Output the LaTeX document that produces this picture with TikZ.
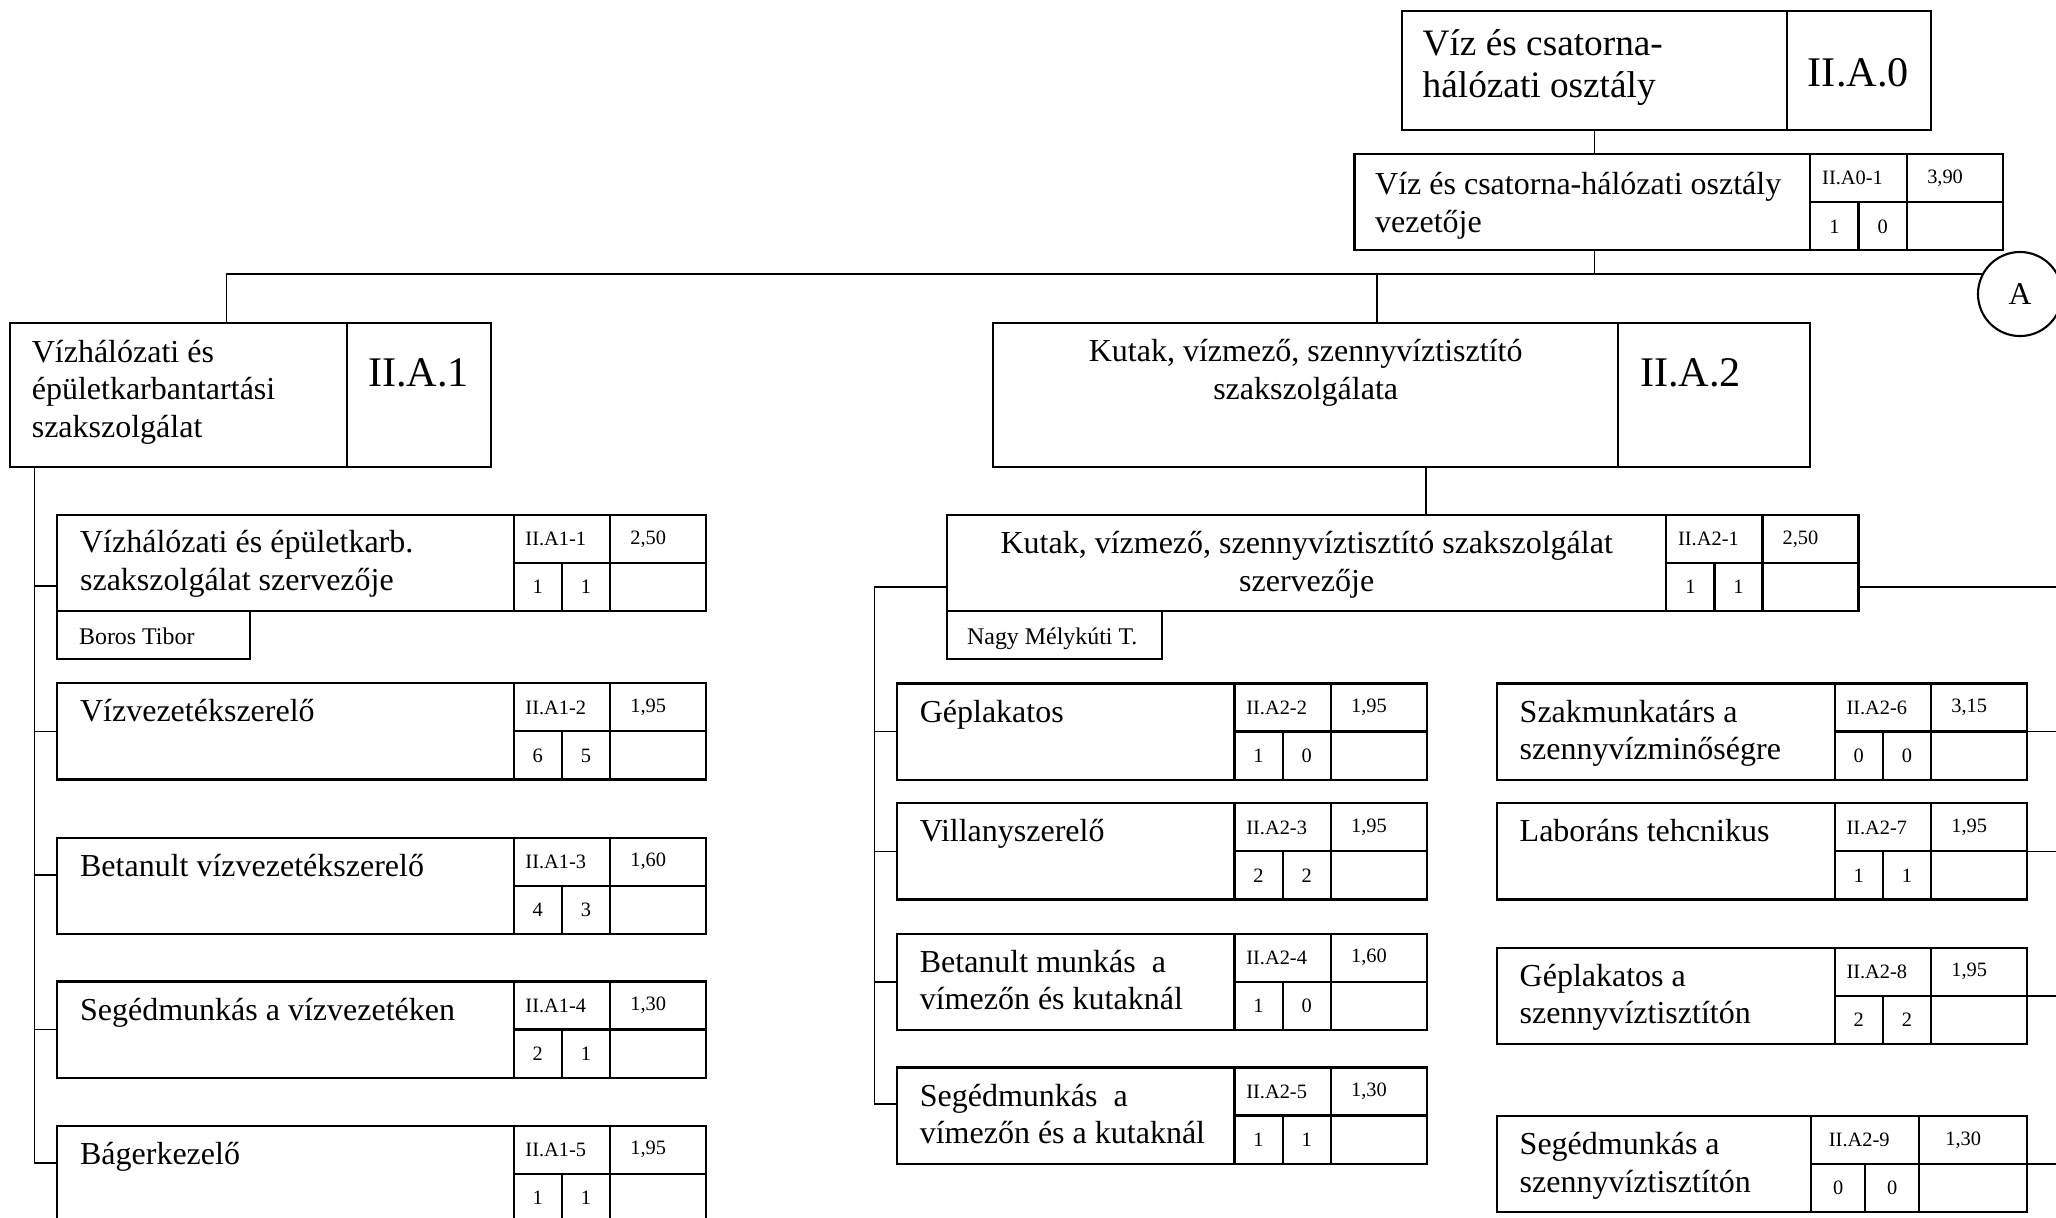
\documentclass[tikz,border=0pt]{standalone}
\usepackage{fontspec}
\setmainfont{Liberation Serif}
\usetikzlibrary{positioning}

\tikzset{
  jobbox/.style={draw, line width=0.6pt, inner sep=0pt, outer sep=0pt, anchor=north west, minimum height=0.96cm},
  cell/.style={draw, line width=0.6pt, inner sep=0pt, outer sep=0pt, anchor=north west, minimum height=0.48cm, font=\fontsize{5.8}{7}\selectfont},
  jobtext/.style={inner sep=0pt, anchor=base west, align=left, font=\fontsize{9.1}{10.7}\selectfont},
  nametag/.style={draw, line width=0.6pt, inner sep=0pt, outer sep=0pt, anchor=north west, minimum height=0.477cm},
  nametext/.style={inner sep=0pt, anchor=base west, font=\fontsize{6.8}{8}\selectfont},
  unitbox/.style={draw, line width=0.6pt, inner sep=0pt, outer sep=0pt, anchor=north west, minimum height=1.44cm},
  unitlabel/.style={inner sep=0pt, anchor=base west, font=\fontsize{12}{14}\selectfont},
  link/.style={line width=0.5pt},
}

% job box: name, left, top, table x, right, code, value, digit 1, digit 2
\newcommand{\posbox}[9]{%
  \pgfmathsetmacro{\pbtext}{(#4-#2)/100}%
  \pgfmathsetmacro{\pbcell}{(#5-#4)/200}%
  \pgfmathsetmacro{\pbhalf}{(#5-#4)/400}%
  \node[jobbox, minimum width=\pbtext cm] (#1) at (#2,#3) {};
  \node[cell, minimum width=\pbcell cm] (#1-code) at (#1.north east) {\hspace*{-.12cm}#6};
  \node[cell, minimum width=\pbcell cm] (#1-val) at (#1-code.north east) {\hspace*{-.2cm}#7};
  \node[cell, minimum width=\pbhalf cm] (#1-n) at (#1-code.south west) {#8};
  \node[cell, minimum width=\pbhalf cm] (#1-m) at (#1-n.north east) {#9};
  \node[cell, minimum width=\pbcell cm] (#1-e) at (#1-val.south west) {};
}

\begin{document}
\begin{tikzpicture}[x=0.01cm, y=-0.01cm]
    \path[use as bounding box] (0,0) rectangle (2056,1217);
    \clip (0,0) rectangle (2056,1217);

    % Department
    \node[unitbox, minimum width=3.85cm, minimum height=1.193cm] (a0) at (1402,10.7) {};
    \node[unitbox, minimum width=1.44cm, minimum height=1.193cm] (a0-lab) at (a0.north east) {};
    \node[jobtext, font=\fontsize{10.6}{12.2}\selectfont] (a0-t) at ([xshift=.2cm,yshift=-.872cm]a0.north west) {Víz és csatorna-\\hálózati osztály};
    \node[unitlabel] (a0-l) at ([xshift=.2cm,yshift=-.753cm]a0-lab.north west) {II.A.0};

    % Head of department
    \posbox{a0v}{1354.5}{154.3}{1810}{2003}{II.A0-1}{3,90}{1}{0}
    \node[jobtext] (a0v-t) at ([xshift=.2cm,yshift=-.78cm]a0v.north west) {Víz és csatorna-hálózati osztály\\vezetője};

    \coordinate (hub) at (1594.5,274.3);
    \draw[link] (a0.south -| hub) -- (a0v.north -| hub);
    \draw[link] (a0v.south -| hub) -- (hub);

    % Connector A
    \node[draw, circle, line width=0.6pt, minimum size=0.84cm, inner sep=0pt, font=\fontsize{9}{10}\selectfont] (circA) at (2020,294) {A};

    % Units
    \node[unitbox, minimum width=3.366cm] (a1) at (10.1,322.7) {};
    \node[unitbox, minimum width=1.437cm] (a1-lab) at (a1.north east) {};
    \node[jobtext] (a1-t) at ([xshift=.21cm,yshift=-1.145cm]a1.north west) {Vízhálózati és\\épületkarbantartási\\szakszolgálat};
    \node[unitlabel] (a1-l) at ([xshift=.206cm,yshift=-.633cm]a1-lab.north west) {II.A.1};

    \node[unitbox, minimum width=6.242cm] (a2) at (993.4,322.7) {};
    \node[unitbox, minimum width=1.921cm] (a2-lab) at (a2.north east) {};
    \node[jobtext, align=center, anchor=base] (a2-t) at ([yshift=-.766cm]a2.north) {Kutak, vízmező, szennyvíztisztító\\szakszolgálata};
    \node[unitlabel] (a2-l) at ([xshift=.214cm,yshift=-.633cm]a2-lab.north west) {II.A.2};

    % Top bus
    \coordinate (a1drop) at ([xshift=2.163cm]a1.north west);
    \coordinate (a2drop) at ([xshift=3.836cm]a2.north west);
    \draw[link] (a1drop) |- (hub) -- (hub -| circA.152);
    \draw[link] (a2drop) -- (a2drop |- hub);

    % II.A.1 positions
    \posbox{a11}{57.4}{515}{513.3}{706}{II.A1-1}{2,50}{1}{1}
    \node[jobtext] (a11-t) at ([xshift=.22cm,yshift=-.755cm]a11.north west) {Vízhálózati és épületkarb.\\szakszolgálat szervezője};
    \node[nametag, minimum width=1.928cm] (a11-name) at (a11.south west) {};
    \node[nametext] (a11-nt) at ([xshift=.21cm,yshift=-.33cm]a11-name.north west) {Boros Tibor};

    \posbox{vizvez}{57.4}{683.4}{513.3}{706}{II.A1-2}{1,95}{6}{5}
    \node[jobtext] (vizvez-t) at ([xshift=.22cm,yshift=-.385cm]vizvez.north west) {Vízvezetékszerelő};
    \posbox{betan1}{57.4}{837.6}{513.3}{706}{II.A1-3}{1,60}{4}{3}
    \node[jobtext] (betan1-t) at ([xshift=.22cm,yshift=-.385cm]betan1.north west) {Betanult vízvezetékszerelő};
    \posbox{seged1}{57.4}{981.5}{513.3}{706}{II.A1-4}{1,30}{2}{1}
    \node[jobtext] (seged1-t) at ([xshift=.22cm,yshift=-.385cm]seged1.north west) {Segédmunkás a vízvezetéken};
    \posbox{bager}{57.4}{1125.7}{513.3}{706}{II.A1-5}{1,95}{1}{1}
    \node[jobtext] (bager-t) at ([xshift=.22cm,yshift=-.385cm]bager.north west) {Bágerkezelő};

    \coordinate (a1trunk) at ([xshift=.243cm]a1.south west);
    \coordinate (a11in) at ([yshift=-.71cm]a11.north west);
    \coordinate (betan1in) at ([yshift=-.37cm]betan1.north west);
    \coordinate (bagerin) at ([yshift=-.37cm]bager.north west);
    \draw[link] (a1trunk) |- (bagerin);
    \draw[link] (a1trunk |- a11in) -- (a11in);
    \draw[link] (a1trunk |- vizvez.west) -- (vizvez.west);
    \draw[link] (a1trunk |- betan1in) -- (betan1in);
    \draw[link] (a1trunk |- seged1.west) -- (seged1.west);

    % II.A.2 positions
    \posbox{a21}{947}{515}{1666}{1858}{II.A2-1}{2,50}{1}{1}
    \node[jobtext, align=center, anchor=base] (a21-t) at ([yshift=-.76cm]a21.north) {Kutak, vízmező, szennyvíztisztító szakszolgálat\\szervezője};
    \node[nametag, minimum width=2.146cm] (a21-name) at (a21.south west) {};
    \node[nametext] (a21-nt) at ([xshift=.194cm,yshift=-.338cm]a21-name.north west) {Nagy Mélykúti T.};

    \coordinate (a2link) at ([xshift=4.326cm]a2.south west);
    \draw[link] (a2link) -- (a2link |- a21.north);

    \posbox{geplak1}{897.1}{683.5}{1234.3}{1426.8}{II.A2-2}{1,95}{1}{0}
    \node[jobtext] (geplak1-t) at ([xshift=.22cm,yshift=-.385cm]geplak1.north west) {Géplakatos};
    \posbox{villany}{897.1}{803.4}{1234.3}{1426.8}{II.A2-3}{1,95}{2}{2}
    \node[jobtext] (villany-t) at ([xshift=.22cm,yshift=-.385cm]villany.north west) {Villanyszerelő};
    \posbox{betan2}{897.1}{933.6}{1234.3}{1426.8}{II.A2-4}{1,60}{1}{0}
    \node[jobtext] (betan2-t) at ([xshift=.22cm,yshift=-.761cm]betan2.north west) {Betanult munkás\ \ a\\vímezőn és kutaknál};
    \posbox{seged2}{897.1}{1067.5}{1234.3}{1426.8}{II.A2-5}{1,30}{1}{1}
    \node[jobtext] (seged2-t) at ([xshift=.22cm,yshift=-.761cm]seged2.north west) {Segédmunkás\ \ a\\vímezőn és a kutaknál};

    \coordinate (a21l) at ([yshift=-.722cm]a21.north west);
    \coordinate (a2trunk) at ([xshift=-.725cm]a21l);
    \coordinate (seged2in) at ([yshift=-.362cm]seged2.north west);
    \draw[link] (a21l) -- (a2trunk) |- (seged2in);
    \draw[link] (a2trunk |- geplak1.west) -- (geplak1.west);
    \draw[link] (a2trunk |- villany.west) -- (villany.west);
    \draw[link] (a2trunk |- betan2.west) -- (betan2.west);

    \posbox{szakm}{1497}{683.5}{1834.5}{2027}{II.A2-6}{3,15}{0}{0}
    \node[jobtext] (szakm-t) at ([xshift=.22cm,yshift=-.761cm]szakm.north west) {Szakmunkatárs a\\szennyvízminőségre};
    \posbox{labor}{1497}{803.4}{1834.5}{2027}{II.A2-7}{1,95}{1}{1}
    \node[jobtext] (labor-t) at ([xshift=.22cm,yshift=-.385cm]labor.north west) {Laboráns tehcnikus};
    \posbox{geplak2}{1497}{947.7}{1834.5}{2027}{II.A2-8}{1,95}{2}{2}
    \node[jobtext] (geplak2-t) at ([xshift=.22cm,yshift=-.761cm]geplak2.north west) {Géplakatos a\\szennyvíztisztítón};
    \posbox{seged3}{1497}{1116}{1811}{2027}{II.A2-9}{1,30}{0}{0}
    \node[jobtext] (seged3-t) at ([xshift=.22cm,yshift=-.761cm]seged3.north west) {Segédmunkás a\\szennyvíztisztítón};

    % right trunk (off the page)
    \coordinate (redge) at (2060,0);
    \coordinate (a21r) at ([yshift=-.722cm]a21-val.north east);
    \draw[link] (a21r) -- (a21r -| redge);
    \draw[link] (szakm-val.south east) -- (szakm-val.south east -| redge);
    \draw[link] (labor-val.south east) -- (labor-val.south east -| redge);
    \draw[link] (geplak2-val.south east) -- (geplak2-val.south east -| redge);
    \draw[link] (seged3-val.south east) -- (seged3-val.south east -| redge);
\end{tikzpicture}
\end{document}
